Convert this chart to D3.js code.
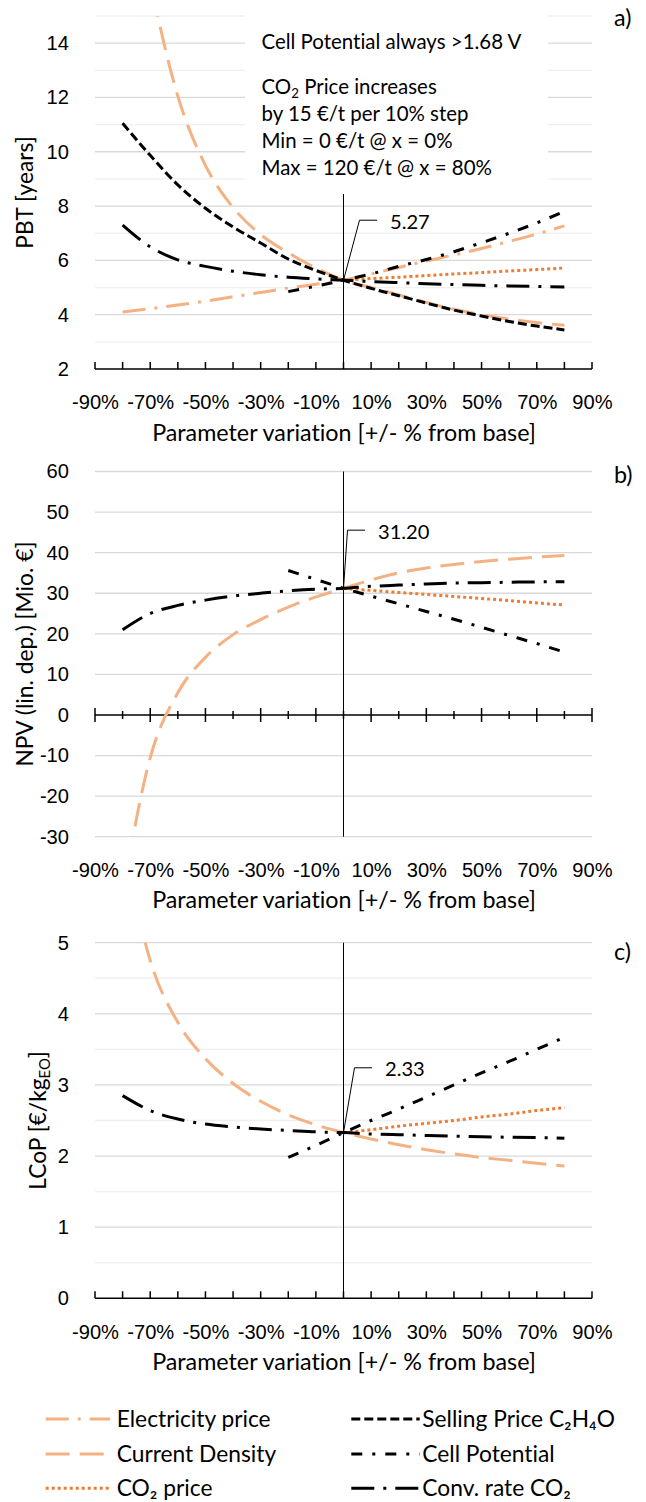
<!DOCTYPE html>
<html>
<head>
<meta charset="utf-8">
<script src="https://cdn.jsdelivr.net/npm/d3@7"></script>
<style>
body { margin: 0; background: #fff; }
svg { display: block; font-family: Lato, "Open Sans", sans-serif; font-variant-ligatures: none; font-feature-settings: "liga" 0; }
</style>
</head>
<body>
<svg id="chart" width="646" height="1502"></svg>
<script>
// x values (% variation from base)
var xFull = [-80, -70, -60, -50, -40, -30, -20, -10, 0, 10, 20, 30, 40, 50, 60, 70, 80];
var xCell = [-20, -10, 0, 10, 20, 30, 40, 50, 60, 70, 80];
var xCO2 = [0, 10, 20, 30, 40, 50, 60, 70, 80];
var xTickLabels = [-90, -70, -50, -30, -10, 10, 30, 50, 70, 90];

// a) PBT [years]
var elecPBT = [4.10, 4.22, 4.36, 4.50, 4.66, 4.82, 4.98, 5.12, 5.27, 5.50, 5.74, 5.98, 6.20, 6.44, 6.70, 6.97, 7.27];
var curDensPBT = [22.0, 16.3, 12.05, 9.5, 7.95, 6.95, 6.28, 5.72, 5.27, 5.00, 4.73, 4.45, 4.20, 4.00, 3.84, 3.71, 3.61];
var co2PBT = [5.27, 5.33, 5.38, 5.44, 5.50, 5.55, 5.61, 5.66, 5.72];
var sellPBT = [11.05, 9.87, 8.78, 7.92, 7.23, 6.64, 6.05, 5.63, 5.27, 4.97, 4.70, 4.43, 4.17, 3.95, 3.75, 3.58, 3.44];
var cellPBT = [4.85, 5.05, 5.27, 5.50, 5.78, 6.03, 6.32, 6.65, 7.00, 7.38, 7.80];
var convPBT = [7.30, 6.50, 6.02, 5.78, 5.60, 5.47, 5.38, 5.32, 5.27, 5.22, 5.18, 5.14, 5.11, 5.08, 5.06, 5.04, 5.02];

// b) NPV (lin. dep.) [Mio. EUR]
var curDensNPV = [-44, -10.5, 5.5, 14.2, 19.8, 23.5, 26.6, 29.1, 31.2, 33.3, 35.0, 36.2, 37.1, 37.8, 38.4, 38.9, 39.3];
var co2NPV = [31.2, 30.7, 30.2, 29.7, 29.2, 28.7, 28.2, 27.6, 27.1];
var cellNPV = [35.6, 33.4, 31.2, 29.3, 27.4, 25.5, 23.6, 21.6, 19.6, 17.6, 15.5];
var convNPV = [21.0, 25.0, 27.0, 28.3, 29.3, 30.0, 30.6, 31.0, 31.2, 31.7, 32.0, 32.3, 32.5, 32.6, 32.7, 32.8, 32.8];

// c) LCoP [EUR/kg EO]
var curDensLCoP = [6.45, 4.75, 3.88, 3.37, 3.02, 2.77, 2.58, 2.44, 2.33, 2.24, 2.16, 2.09, 2.03, 1.98, 1.94, 1.90, 1.86];
var co2LCoP = [2.33, 2.37, 2.42, 2.46, 2.50, 2.55, 2.59, 2.64, 2.68];
var cellLCoP = [1.98, 2.15, 2.33, 2.50, 2.66, 2.83, 3.00, 3.17, 3.33, 3.50, 3.67];
var convLCoP = [2.85, 2.64, 2.52, 2.45, 2.41, 2.38, 2.36, 2.34, 2.33, 2.31, 2.30, 2.29, 2.28, 2.27, 2.265, 2.26, 2.25];

var baseValues = [5.27, 31.20, 2.33];
var baseLabels = ["5.27", "31.20", "2.33"];

var legendNames = ["Electricity price", "Current Density", "CO\u2082 price",
                   "Selling Price C\u2082H\u2084O", "Cell Potential", "Conv. rate CO\u2082"];

var annLines = ["Cell Potential always >1.68 V", "", "by 15 \u20AC/t per 10% step",
                "Min = 0 \u20AC/t @ x = 0%", "Max = 120 \u20AC/t @ x = 80%"];

// line styles
var styles = {
    elec: { color: "#F4B183", dash: "23 9 3 9", w: 3 },
    curDens: { color: "#F4B183", dash: "24 10", w: 3 },
    co2: { color: "#ED7D31", dash: "3 3", w: 3 },
    sell: { color: "#000", dash: "9 4", w: 3 },
    cell: { color: "#000", dash: "11 10 3 10", w: 3 },
    conv: { color: "#000", dash: "23 9 3 9", w: 3 }
};
var legendKeys = ["elec", "curDens", "co2", "sell", "cell", "conv"];

var svg = d3.select("#chart");
var xTitle = "Parameter variation [+/- % from base]";

// font sizes fitted to the widths of the original texts
function fit(str, target) {
    var t = svg.append("text").attr("font-size", 20).text(str);
    var s = 20 * target / t.node().getComputedTextLength();
    t.remove();
    return s;
}
var fsTitle = fit(xTitle, 384);
var fsTick = fit("-90%", 47);
var fsAnn = fit(annLines[0], 260);
var fsLeg = fit(legendNames[0], 154);
var fsYTitle = fit("NPV (lin. dep.) [Mio. \u20AC]", 225);

var x = d3.scaleLinear().domain([-90, 90]).range([95, 592]);

function pts(xs, ys) { return xs.map(function (d, i) { return [d, ys[i]]; }); }

var panels = [
    { tag: "a)", tagY: 18, yDomain: [2, 15], yRange: [369, 16], major: d3.range(2, 15, 2), minor: d3.range(3, 16, 2),
      axisAt: 2, cross: false, vTop: 194, labelDx: 46.5, labelDy: -58.5, yTitleX: 25,
      series: [["elec", xFull, elecPBT], ["curDens", xFull, curDensPBT], ["co2", xCO2, co2PBT],
               ["sell", xFull, sellPBT], ["cell", xCell, cellPBT], ["conv", xFull, convPBT]] },
    { tag: "b)", tagY: 475, yDomain: [-30, 60], yRange: [836.7, 471.5], major: d3.range(-30, 61, 10), minor: [],
      axisAt: 0, cross: true, vTop: 471.5, labelDx: 34.5, labelDy: -56.7, yTitleX: 25,
      series: [["curDens", xFull, curDensNPV], ["co2", xCO2, co2NPV],
               ["cell", xCell, cellNPV], ["conv", xFull, convNPV]] },
    { tag: "c)", tagY: 952, yDomain: [0, 5], yRange: [1298.3, 942.7], major: d3.range(0, 5.1, 1), minor: d3.range(0.5, 5, 1),
      axisAt: 0, cross: false, vTop: 942.7, labelDx: 41.5, labelDy: -63.3, yTitleX: 38,
      series: [["curDens", xFull, curDensLCoP], ["co2", xCO2, co2LCoP],
               ["cell", xCell, cellLCoP], ["conv", xFull, convLCoP]] }
];

panels.forEach(function (p, pi) {
    var y = d3.scaleLinear().domain(p.yDomain).range(p.yRange);
    var g = svg.append("g");
    var bottom = p.yRange[0];

    // gridlines
    g.append("g").selectAll("line").data(p.minor).enter().append("line")
        .attr("x1", x(-90)).attr("x2", x(90))
        .attr("y1", y).attr("y2", y)
        .attr("stroke", "#F0F0F0").attr("stroke-width", 1.3);
    g.append("g").selectAll("line").data(p.major.filter(function (d) { return d !== p.axisAt; })).enter().append("line")
        .attr("x1", x(-90)).attr("x2", x(90))
        .attr("y1", y).attr("y2", y)
        .attr("stroke", "#D9D9D9").attr("stroke-width", 1.3);

    // y tick labels
    var yAxis = d3.axisLeft(y).tickValues(p.major).tickSize(0).tickPadding(26)
        .tickFormat(function (d) { return d3.format("d")(d).replace("\u2212", "-"); });
    g.append("g").attr("transform", "translate(" + x(-90) + ",0)").call(yAxis)
        .call(function (s) { s.select(".domain").remove(); })
        .selectAll("text").attr("font-size", fsTick).attr("font-family", null).attr("fill", "#000");

    // annotation box for panel a
    if (pi === 0) {
        g.append("rect").attr("x", 245).attr("y", 0).attr("width", 303).attr("height", 190).attr("fill", "#fff");
        var ann = g.append("g").attr("font-size", fsAnn).attr("fill", "#000");
        var annY = [42, 87, 114, 141, 168];
        annLines.forEach(function (s, i) {
            var t = ann.append("text").attr("x", 261.5).attr("y", annY[i]).attr("dy", "0.35em");
            if (i === 1) {
                t.append("tspan").text("CO");
                t.append("tspan").attr("font-size", fsAnn * 0.65).attr("dy", "0.3em").text("2");
                t.append("tspan").attr("dy", "-0.2em").text(" Price increases");
            } else {
                t.text(s);
            }
        });
    }

    // vertical base line
    g.append("line").attr("x1", x(0)).attr("x2", x(0)).attr("y1", p.vTop).attr("y2", bottom)
        .attr("stroke", "#000").attr("stroke-width", 1);

    // x axis line with ticks
    var ay = y(p.axisAt);
    g.append("line").attr("x1", x(-90)).attr("x2", x(90)).attr("y1", ay).attr("y2", ay)
        .attr("stroke", "#000").attr("stroke-width", 1.5);
    var tickVals = d3.range(-90, 91, 10);
    g.append("g").selectAll("line").data(tickVals).enter().append("line")
        .attr("x1", x).attr("x2", x)
        .attr("y1", function (d) {
            if (!p.cross) return ay - 7;
            return ay - ((Math.abs(d) / 10) % 2 === 1 ? 7 : 4);
        })
        .attr("y2", function (d) {
            if (!p.cross) return ay;
            return ay + ((Math.abs(d) / 10) % 2 === 1 ? 7 : 4);
        })
        .attr("stroke", "#000").attr("stroke-width", 1.5);

    // x tick labels at bottom of plot
    var xAxis = d3.axisBottom(x).tickValues(xTickLabels).tickSize(0)
        .tickFormat(function (d) { return d + "%"; });
    g.append("g").attr("transform", "translate(0," + bottom + ")").call(xAxis)
        .call(function (s) { s.select(".domain").remove(); })
        .selectAll("text").attr("y", 33.4).attr("dy", "0.35em")
        .attr("font-size", fsTick).attr("font-family", null).attr("fill", "#000");

    // x title
    g.append("text").attr("x", 344).attr("y", bottom + 63.4).attr("dy", "0.35em")
        .attr("text-anchor", "middle").attr("font-size", fsTitle)
        .text(xTitle);

    // y title
    var ty = g.append("text").attr("transform", "translate(" + p.yTitleX + "," + ((p.yRange[0] + p.yRange[1]) / 2) + ") rotate(-90)")
        .attr("text-anchor", "middle").attr("dy", "0.35em").attr("font-size", fsYTitle);
    if (pi === 0) ty.text("PBT [years]");
    if (pi === 1) ty.text("NPV (lin. dep.) [Mio. \u20AC]");
    if (pi === 2) {
        ty.append("tspan").text("LCoP [\u20AC/kg");
        ty.append("tspan").attr("font-size", fsYTitle * 0.65).attr("dy", "0.3em").text("EO");
        ty.append("tspan").attr("dy", "-0.2em").text("]");
    }

    // panel tag
    g.append("text").attr("x", 614).attr("y", p.tagY).attr("dy", "0.35em").attr("font-size", fsTitle).text(p.tag);

    // series
    var clipId = "clip" + pi;
    svg.append("clipPath").attr("id", clipId).append("rect")
        .attr("x", x(-90)).attr("y", p.yRange[1]).attr("width", x(90) - x(-90)).attr("height", p.yRange[0] - p.yRange[1]);
    var line = d3.line().x(function (d) { return x(d[0]); }).y(function (d) { return y(d[1]); })
        .curve(d3.curveMonotoneX);
    var sg = g.append("g").attr("clip-path", "url(#" + clipId + ")");
    p.series.forEach(function (s) {
        var st = styles[s[0]];
        sg.append("path").datum(pts(s[1], s[2])).attr("d", line)
            .attr("fill", "none").attr("stroke", st.color).attr("stroke-width", st.w)
            .attr("stroke-dasharray", st.dash);
    });

    // base value label with leader
    var px = x(0), py = y(baseValues[pi]);
    var lx = px + p.labelDx, ly = py + p.labelDy;
    g.append("polyline")
        .attr("points", [[px, py], [lx - 30.5, ly - 1.5], [lx - 13, ly - 1.5]].map(function (q) { return q.join(","); }).join(" "))
        .attr("fill", "none").attr("stroke", "#000").attr("stroke-width", 1);
    g.append("text").attr("x", lx).attr("y", ly).attr("dy", "0.35em").attr("font-size", fsTick).text(baseLabels[pi]);
});

// legend
var leg = svg.append("g");
var rows = [1419, 1454, 1488.3];
legendKeys.forEach(function (k, i) {
    var col = i < 3 ? 0 : 1;
    var ry = rows[i % 3];
    var x1 = col === 0 ? 45.7 : 351.3;
    var x2 = col === 0 ? 110 : 419.7;
    var st = styles[k];
    leg.append("line").attr("x1", x1).attr("x2", x2).attr("y1", ry).attr("y2", ry)
        .attr("stroke", st.color).attr("stroke-width", st.w).attr("stroke-dasharray", st.dash);
    leg.append("text").attr("x", col === 0 ? 116.7 : 422.3).attr("y", ry).attr("dy", "0.35em")
        .attr("font-size", fsLeg).text(legendNames[i]);
});
</script>
</body>
</html>
